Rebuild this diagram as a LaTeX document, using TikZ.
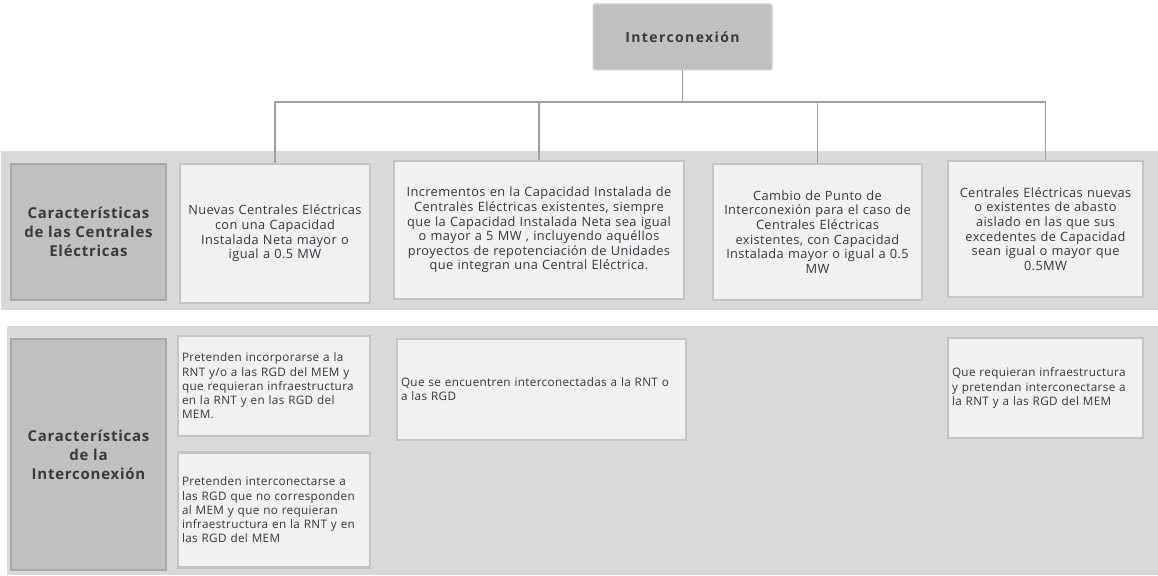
\documentclass[tikz,border=0pt]{standalone}
\usepackage{fontspec}
\setmainfont{Open Sans}
\newfontfamily\labfont[LetterSpace=5]{Open Sans}
\newfontfamily\titfont[LetterSpace=10]{Open Sans}
\newfontfamily\boxfont[LetterSpace=3]{Open Sans}
\definecolor{bandgray}{HTML}{D9D9D9}
\definecolor{labfill}{HTML}{C0C0C0}
\definecolor{labborder}{HTML}{A8A8A8}
\definecolor{cfill}{HTML}{F1F1F1}
\definecolor{cborder}{HTML}{C4C4C4}
\definecolor{txt}{HTML}{35353F}
\definecolor{labtxt}{HTML}{3A3A3A}
\definecolor{linegray}{HTML}{A0A0A0}
\definecolor{titborder}{HTML}{CFCFCF}
\begin{document}
\begin{tikzpicture}[x=1pt,y=-1pt,
  band/.style={fill=bandgray, draw=none, inner sep=0pt},
  titbox/.style={fill=labfill, draw=titborder, line width=1pt, rounded corners=1.5pt, inner sep=0pt, text=labtxt, font=\titfont\bfseries\fontsize{14}{17}\selectfont},
  labbox/.style={draw=labborder, fill=labfill, line width=2.5pt, font=\labfont\bfseries\fontsize{15}{19}\selectfont, text=labtxt, align=center, inner sep=0pt},
  cbox/.style={draw=cborder, fill=cfill, line width=2.5pt, font=\boxfont\fontsize{12.8}{14.6}\selectfont, text=txt, align=center, inner sep=0pt},
  lbox/.style={draw=cborder, fill=cfill, line width=2.5pt, font=\boxfont\fontsize{11.7}{14.2}\selectfont, text=txt, align=left, inner xsep=4pt, inner ysep=0pt},
  conn/.style={draw=linegray, line width=1.3pt}]
\useasboundingbox (0,0) rectangle (1158,575);
\fill[white] (0,0) rectangle (1158,575);
% bands
\node[band, minimum width=1157pt, minimum height=159pt, anchor=north west] (band1) at (1,151) {};
\node[band, minimum width=1151pt, minimum height=249pt, anchor=north west] (band2) at (7,326) {};
% title
\node[titbox, minimum width=179pt, minimum height=66pt] (title) at (682.5,37) {Interconexión};
% labels
\node[labbox, minimum width=155pt, minimum height=136pt] (lab1) at (88.5,232) {Características\\de las Centrales\\Eléctricas};
\node[labbox, minimum width=155pt, minimum height=231pt] (lab2) at (88.5,454.5) {Características\\de la\\Interconexión};
% row 1 boxes
\node[cbox, minimum width=190pt, minimum height=139pt, text width=188pt] (b1) at (275,233.5)
  {Nuevas Centrales Eléctricas\\con una Capacidad\\Instalada Neta mayor o\\igual a 0.5 MW};
\node[cbox, minimum width=290pt, minimum height=138pt, text width=288pt] (b2) at (539,230)
  {Incrementos en la Capacidad Instalada de\\Centrales Eléctricas existentes, siempre\\que la Capacidad Instalada Neta sea igual\\o mayor a 5 MW , incluyendo aquéllos\\proyectos de repotenciación de Unidades\\que integran una Central Eléctrica.};
\node[cbox, minimum width=209pt, minimum height=136pt, text width=207pt] (b3) at (817.5,232)
  {Cambio de Punto de\\Interconexión para el caso de\\Centrales Eléctricas\\existentes, con Capacidad\\Instalada mayor o igual a 0.5\\MW};
\node[cbox, minimum width=195pt, minimum height=136pt, text width=193pt] (b4) at (1045.5,229)
  {Centrales Eléctricas nuevas\\o existentes de abasto\\aislado en las que sus\\excedentes de Capacidad\\sean igual o mayor que\\0.5MW};
% row 2 boxes
\node[lbox, minimum width=192pt, minimum height=100pt, text width=184pt] (b5) at (274,386)
  {Pretenden incorporarse a la\\RNT y/o a las RGD del MEM y\\que requieran infraestructura\\en la RNT y en las RGD del\\MEM.};
\node[lbox, minimum width=192pt, minimum height=115pt, text width=184pt] (b6) at (274,510)
  {Pretenden interconectarse a\\las RGD que no corresponden\\al MEM y que no requieran\\infraestructura en la RNT y en\\las RGD del MEM};
\node[lbox, minimum width=289pt, minimum height=101pt, text width=281pt] (b7) at (541.5,389.5)
  {Que se encuentren interconectadas a la RNT o\\a las RGD};
\node[lbox, minimum width=195pt, minimum height=100pt, text width=187pt] (b8) at (1045.5,388)
  {Que requieran infraestructura\\y pretendan interconectarse a\\la RNT y a las RGD del MEM};
% connectors
\coordinate (hl) at (682.5,102);
\draw[conn] (title.south) -- (title.south |- hl);
\draw[conn] (b1.north) -- (b1.north |- hl) -- (b4.north |- hl) -- (b4.north);
\draw[conn] (b2.north) -- (b2.north |- hl);
\draw[conn] (b3.north) -- (b3.north |- hl);
\end{tikzpicture}
\end{document}
